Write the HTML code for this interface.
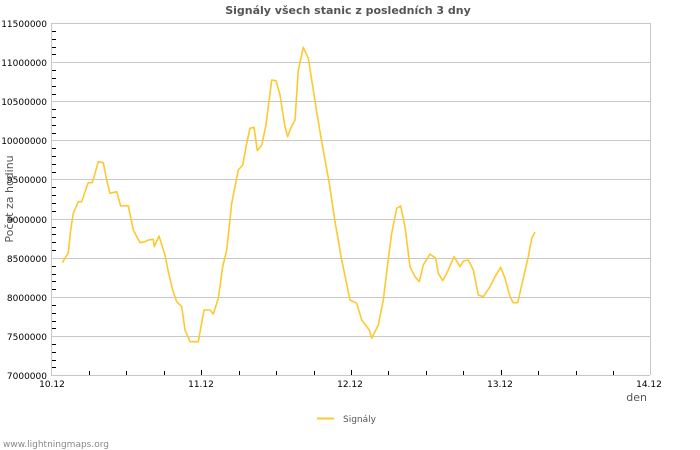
<!DOCTYPE html>
<html><head><meta charset="utf-8"><style>body{margin:0;background:#fff}svg{display:block}</style></head><body>
<svg width="700" height="450" xmlns="http://www.w3.org/2000/svg" font-family="DejaVu Sans, Liberation Sans, sans-serif">
<rect width="700" height="450" fill="#fff"/>
<text x="348" y="14" text-anchor="middle" font-size="11" font-weight="bold" fill="#555">Signály všech stanic z posledních 3 dny</text>
<g stroke="#c8c8c8" stroke-width="1">
<line x1="51" y1="23.5" x2="650" y2="23.5"/><line x1="51" y1="62.5" x2="650" y2="62.5"/><line x1="51" y1="101.5" x2="650" y2="101.5"/><line x1="51" y1="140.5" x2="650" y2="140.5"/><line x1="51" y1="179.5" x2="650" y2="179.5"/><line x1="51" y1="219.5" x2="650" y2="219.5"/><line x1="51" y1="258.5" x2="650" y2="258.5"/><line x1="51" y1="297.5" x2="650" y2="297.5"/><line x1="51" y1="336.5" x2="650" y2="336.5"/><line x1="51" y1="375.5" x2="650" y2="375.5"/>
<line x1="51.5" y1="23" x2="51.5" y2="375"/><line x1="650.5" y1="23" x2="650.5" y2="375"/>
</g>
<g stroke="#000" stroke-width="1">
<line x1="52" x2="56" y1="31.5" y2="31.5"/><line x1="52" x2="56" y1="39.5" y2="39.5"/><line x1="52" x2="56" y1="47.5" y2="47.5"/><line x1="52" x2="56" y1="54.5" y2="54.5"/>
<line x1="52" x2="56" y1="70.5" y2="70.5"/><line x1="52" x2="56" y1="78.5" y2="78.5"/><line x1="52" x2="56" y1="86.5" y2="86.5"/><line x1="52" x2="56" y1="94.5" y2="94.5"/>
<line x1="52" x2="56" y1="109.5" y2="109.5"/><line x1="52" x2="56" y1="117.5" y2="117.5"/><line x1="52" x2="56" y1="125.5" y2="125.5"/><line x1="52" x2="56" y1="133.5" y2="133.5"/>
<line x1="52" x2="56" y1="148.5" y2="148.5"/><line x1="52" x2="56" y1="156.5" y2="156.5"/><line x1="52" x2="56" y1="164.5" y2="164.5"/><line x1="52" x2="56" y1="172.5" y2="172.5"/>
<line x1="52" x2="56" y1="187.5" y2="187.5"/><line x1="52" x2="56" y1="195.5" y2="195.5"/><line x1="52" x2="56" y1="203.5" y2="203.5"/><line x1="52" x2="56" y1="211.5" y2="211.5"/>
<line x1="52" x2="56" y1="227.5" y2="227.5"/><line x1="52" x2="56" y1="234.5" y2="234.5"/><line x1="52" x2="56" y1="242.5" y2="242.5"/><line x1="52" x2="56" y1="250.5" y2="250.5"/>
<line x1="52" x2="56" y1="266.5" y2="266.5"/><line x1="52" x2="56" y1="274.5" y2="274.5"/><line x1="52" x2="56" y1="281.5" y2="281.5"/><line x1="52" x2="56" y1="289.5" y2="289.5"/>
<line x1="52" x2="56" y1="305.5" y2="305.5"/><line x1="52" x2="56" y1="313.5" y2="313.5"/><line x1="52" x2="56" y1="321.5" y2="321.5"/><line x1="52" x2="56" y1="328.5" y2="328.5"/>
<line x1="52" x2="56" y1="344.5" y2="344.5"/><line x1="52" x2="56" y1="352.5" y2="352.5"/><line x1="52" x2="56" y1="360.5" y2="360.5"/><line x1="52" x2="56" y1="367.5" y2="367.5"/>
<line x1="89.5" x2="89.5" y1="375" y2="371"/><line x1="126.5" x2="126.5" y1="375" y2="371"/><line x1="164.5" x2="164.5" y1="375" y2="371"/><line x1="201.5" x2="201.5" y1="375" y2="370"/>
<line x1="239.5" x2="239.5" y1="375" y2="371"/><line x1="276.5" x2="276.5" y1="375" y2="371"/><line x1="314.5" x2="314.5" y1="375" y2="371"/><line x1="351.5" x2="351.5" y1="375" y2="370"/>
<line x1="388.5" x2="388.5" y1="375" y2="371"/><line x1="426.5" x2="426.5" y1="375" y2="371"/><line x1="463.5" x2="463.5" y1="375" y2="371"/><line x1="501.5" x2="501.5" y1="375" y2="370"/>
<line x1="538.5" x2="538.5" y1="375" y2="371"/><line x1="576.5" x2="576.5" y1="375" y2="371"/><line x1="613.5" x2="613.5" y1="375" y2="371"/>
</g>
<g font-size="9" fill="#000" text-anchor="end">
<text x="47" y="27">11500000</text><text x="47" y="66">11000000</text><text x="47" y="105">10500000</text><text x="47" y="144">10000000</text><text x="47" y="183">9500000</text><text x="47" y="223">9000000</text><text x="47" y="262">8500000</text><text x="47" y="301">8000000</text><text x="47" y="340">7500000</text><text x="47" y="379">7000000</text>
</g>
<g font-size="9" fill="#000" text-anchor="middle">
<text x="52" y="387">10.12</text><text x="201" y="387">11.12</text><text x="350" y="387">12.12</text><text x="500" y="387">13.12</text><text x="649" y="387">14.12</text>
</g>
<text x="647" y="401" text-anchor="end" font-size="11" fill="#555">den</text>
<text transform="translate(13,199) rotate(-90)" text-anchor="middle" font-size="11" fill="#555">Počet za hodinu</text>
<polyline fill="none" stroke="#fcc932" stroke-width="1.6" stroke-linejoin="round" points="62.3,262.7 68.3,252.7 70.7,230 73.3,213.3 78.3,201.7 81.7,201.7 86.7,186.7 88.3,182.7 92.3,182.7 95,173.3 98.3,161.7 103.3,162.7 106.7,180 110,193.3 116.7,191.7 120.7,206 128.3,205.7 133.3,230 140,242.7 145,241.7 148.3,240 153.3,239.3 154.3,246.7 159,236 165,255 168.3,271.7 172.7,290 176.7,301.7 181.7,306.7 185,330 190,341.7 198.3,341.7 204,310 210,310 213.3,314 218.3,298.3 222.7,266.7 226.7,250 231.7,203.3 238.3,170 242.7,165 246.7,143.3 250,128.3 254,127.3 257.3,150.7 261.7,145 266,125 271.7,80 276,80.7 280,95 285,126.7 287.7,136.7 290.7,128.3 295,120 298.3,70 303.3,47.3 308.3,58.3 311.7,80 316.7,111.7 321.7,141.7 329.3,183.3 335,221.7 341.7,260 350,300 356.7,303.3 361.7,320 369.3,330 371.7,338.3 378.3,325 383.3,300 389,253.3 391.7,233.3 396.7,208.3 400.7,206 405,226.7 410,266.7 415,276.7 419.3,281.7 423.3,265 430,254 435.7,258.3 438.3,273.3 442.7,280.7 448.3,270 454,256.7 460,266.7 463.3,261 468.3,260 473.3,270 478.3,295 483.3,296.7 490,286.7 495,276.7 500.7,267.3 505,278.3 510,296.7 513.3,302.7 517.7,302.7 523.3,278.3 528.3,256.7 531.7,238.3 535,232.3"/>
<line x1="317" y1="418.5" x2="334" y2="418.5" stroke="#fcc932" stroke-width="2"/>
<text x="343" y="422" font-size="9" fill="#555">Signály</text>
<text x="3" y="447" font-size="9" fill="#888">www.lightningmaps.org</text>
</svg>
</body></html>
